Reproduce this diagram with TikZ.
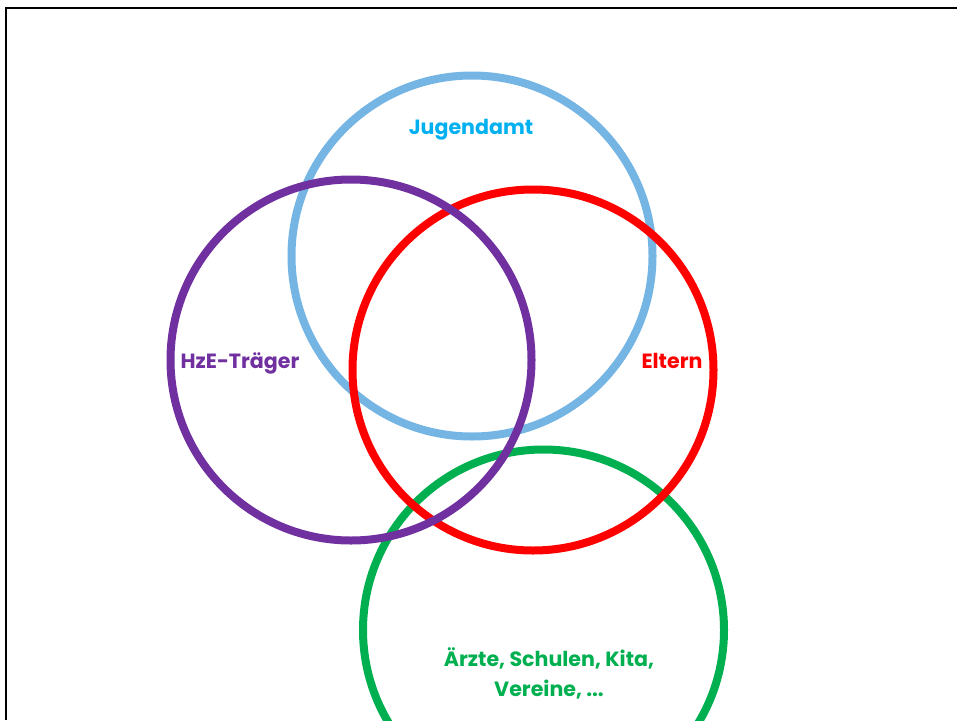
\documentclass[tikz,border=0pt]{standalone}
\usepackage{fontspec}
\setmainfont{Poppins}
\usepackage{tikz}

\definecolor{ringblue}{RGB}{117,181,227}
\definecolor{textblue}{RGB}{0,176,240}
\definecolor{hzepurple}{RGB}{112,48,160}
\definecolor{elternred}{RGB}{255,0,0}
\definecolor{aerztegreen}{RGB}{0,176,80}

\tikzset{
    ring/.style={line width=8pt},
    label/.style={font=\fontsize{20.6}{30}\selectfont\bfseries, align=center, inner sep=0pt}
}

\begin{document}
\begin{tikzpicture}[thick, x=1pt, y=-1pt]
    \useasboundingbox (0,0) rectangle (957,720);
    \coordinate (J) at (472, 256);
    \coordinate (H) at (351, 360);
    \coordinate (E) at (533, 370);
    \coordinate (A) at (543.5, 630);

%J blue
%A green
%E red
%H purple

    \draw[line width=2pt] (6, 720) -- (6, 8) -- (957, 8); % frame

    \draw[ring, ringblue] (J) circle (180.5); % Jugendamt
    \draw[ring, aerztegreen] (A) circle (180.5); % Aerzte
    \draw[ring, elternred] (E) circle (180.5); % Eltern
    \draw[ring, hzepurple] (H) circle (180.5); % HzE

    \node[label, textblue] (Jlabel) at (471, 130) {Jugendamt};
    \node[label, hzepurple] (Hlabel) at (240, 363) {HzE-Träger};
    \node[label, elternred] (Elabel) at (672, 361) {Eltern};
    \node[label, aerztegreen] (Alabel) at (549, 673) {Ärzte, Schulen, Kita,\\Vereine, ...};

\end{tikzpicture}
\end{document}
